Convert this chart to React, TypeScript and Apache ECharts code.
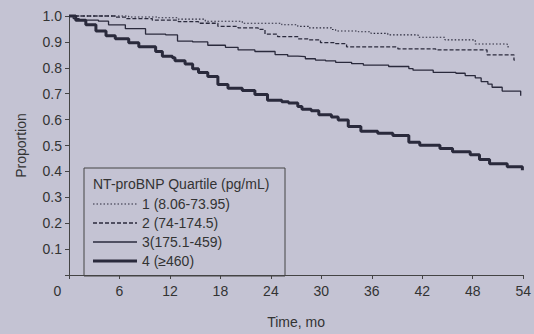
import React, { useEffect, useRef } from "react";
import * as echarts from "echarts";

const xTicks = [0, 6, 12, 18, 24, 30, 36, 42, 48, 54];
const yTicks = [0, 0.1, 0.2, 0.3, 0.4, 0.5, 0.6, 0.7, 0.8, 0.9, 1.0];

const legendTitle = "NT-proBNP Quartile (pg/mL)";
const seriesNames = ["1 (8.06-73.95)", "2 (74-174.5)", "3(175.1-459)", "4 (\u2265460)"];

// [time (mo), proportion] at each step
const q1: [number, number][] = [
  [0, 1.0], [7.1, 0.996], [10.6, 0.993], [13.0, 0.988], [16.2, 0.98], [20.6, 0.972],
  [25.3, 0.966], [27.2, 0.96], [28.5, 0.954], [31.2, 0.948], [31.7, 0.942], [34.4, 0.939],
  [35.9, 0.933], [37.9, 0.927], [41.5, 0.918], [44.7, 0.908], [48.3, 0.892], [52.1, 0.889],
  [52.2, 0.872],
];
const q2: [number, number][] = [
  [0, 1.0], [5.5, 0.996], [6.7, 0.99], [9.9, 0.984], [13.0, 0.978], [15.4, 0.972],
  [17.7, 0.96], [20.1, 0.954], [22.5, 0.948], [23.3, 0.93], [24.8, 0.92], [27.2, 0.912],
  [28.5, 0.908], [29.9, 0.897], [31.7, 0.893], [33.0, 0.881], [38.8, 0.879], [39.1, 0.873],
  [43.6, 0.869], [49.7, 0.85], [52.9, 0.83], [53.0, 0.83],
];
const q3: [number, number][] = [
  [0, 1.0], [0.5, 0.99], [1.2, 0.984], [3.5, 0.98], [4.7, 0.966], [6.7, 0.951],
  [9.1, 0.93], [11.5, 0.927], [12.9, 0.903], [14.7, 0.9], [16.5, 0.887], [18.6, 0.879],
  [20.1, 0.869], [22.1, 0.863], [24.5, 0.851], [26.0, 0.845], [27.2, 0.843], [28.1, 0.835],
  [29.3, 0.83], [30.5, 0.827], [31.7, 0.821], [33.6, 0.816], [35.0, 0.81], [38.0, 0.805],
  [40.4, 0.797], [40.9, 0.791], [43.3, 0.782], [46.0, 0.779], [47.1, 0.77], [48.3, 0.761],
  [49.0, 0.747], [49.8, 0.737], [50.3, 0.725], [51.5, 0.71], [53.6, 0.71], [53.7, 0.692],
];
const q4: [number, number][] = [
  [0, 1.0], [0.8, 0.984], [2.0, 0.966], [3.2, 0.942], [4.4, 0.924], [5.5, 0.912],
  [7.1, 0.897], [8.3, 0.881], [10.3, 0.863], [11.1, 0.845], [12.3, 0.839], [12.6, 0.827],
  [13.8, 0.815], [14.7, 0.796], [15.4, 0.782], [16.5, 0.766], [17.7, 0.736], [18.9, 0.721],
  [20.6, 0.712], [22.1, 0.697], [23.6, 0.675], [25.3, 0.669], [26.1, 0.664], [27.2, 0.651],
  [27.7, 0.64], [28.8, 0.634], [29.7, 0.619], [31.2, 0.61], [32.0, 0.598], [33.2, 0.573],
  [34.7, 0.555], [36.7, 0.547], [38.5, 0.539], [40.4, 0.513], [41.7, 0.501], [44.1, 0.488],
  [45.6, 0.476], [47.7, 0.464], [48.8, 0.446], [50.0, 0.43], [52.1, 0.418], [53.8, 0.418],
  [53.9, 0.404],
];

const BG = "#c4c3d3";
const INK = "#2a2a3c";
const TEXT = "#333";
const FONT = "'Liberation Sans', Arial, Helvetica, sans-serif";

export default function App() {
  const ref = useRef<HTMLDivElement>(null);
  useEffect(() => {
    if (!ref.current) return;
    const chart = echarts.init(ref.current, undefined, { renderer: "svg" });
    const styles = [
      { width: 1.1, type: [1.5, 2] as any, dash: [1.5, 2] },
      { width: 1.3, type: [4, 2] as any, dash: [4, 2] },
      { width: 1.3, type: "solid" as any, dash: null },
      { width: 3, type: "solid" as any, dash: null },
    ];
    const datasets = [q1, q2, q3, q4];

    const legendGraphics: any[] = [
      {
        type: "rect",
        shape: { x: 84, y: 168, width: 201, height: 108 },
        style: { fill: "transparent", stroke: "#444", lineWidth: 1 },
        silent: true,
      },
      {
        type: "text",
        x: 93,
        y: 184,
        style: {
          text: legendTitle,
          fontSize: 14,
          fill: TEXT,
          fontFamily: FONT,
          verticalAlign: "middle",
        },
        silent: true,
      },
    ];
    seriesNames.forEach((name, i) => {
      const y = 204 + i * 19;
      legendGraphics.push({
        type: "line",
        shape: { x1: 93, y1: y, x2: 137, y2: y },
        style: {
          stroke: INK,
          lineWidth: styles[i].width,
          lineDash: styles[i].dash || undefined,
        },
        silent: true,
      });
      legendGraphics.push({
        type: "text",
        x: 142,
        y: y,
        style: { text: name, fontSize: 14, fill: TEXT, fontFamily: FONT, verticalAlign: "middle" },
        silent: true,
      });
    });

    chart.setOption({
      animation: false,
      backgroundColor: BG,
      textStyle: { fontFamily: FONT },
      grid: { left: 69, right: 8, top: 16, bottom: 43, containLabel: false },
      xAxis: {
        type: "value",
        min: xTicks[0],
        max: xTicks[xTicks.length - 1],
        interval: 6,
        name: "Time, mo",
        nameLocation: "middle",
        nameGap: 40,
        nameTextStyle: { fontSize: 14, color: TEXT, fontFamily: FONT },
        axisLine: { show: true, lineStyle: { color: "#444", width: 1 } },
        axisTick: { show: true, length: 4, lineStyle: { color: "#444" } },
        splitLine: { show: false },
        axisLabel: {
          fontSize: 14,
          color: TEXT,
          margin: 9,
          fontFamily: FONT,
          formatter: (v: number) => (v === 0 ? "{z|0}" : String(v)),
          rich: { z: { fontSize: 14, color: TEXT, padding: [0, 23, 0, 0], fontFamily: FONT } },
        },
      },
      yAxis: {
        type: "value",
        min: yTicks[0],
        max: yTicks[yTicks.length - 1],
        interval: 0.1,
        name: "Proportion",
        nameLocation: "middle",
        nameGap: 41,
        nameTextStyle: { fontSize: 14, color: TEXT, fontFamily: FONT },
        axisLine: { show: true, lineStyle: { color: "#444", width: 1 } },
        axisTick: { show: true, length: 4, lineStyle: { color: "#444" } },
        splitLine: { show: false },
        axisLabel: {
          fontSize: 14,
          color: TEXT,
          margin: 7,
          fontFamily: FONT,
          formatter: (v: number) => (Math.abs(v) < 1e-9 ? "" : v.toFixed(1)),
        },
      },
      graphic: legendGraphics,
      series: datasets.map((d, i) => ({
        name: seriesNames[i],
        type: "line",
        step: "end",
        data: d,
        symbol: "none",
        clip: false,
        lineStyle: { color: INK, width: styles[i].width, type: styles[i].type },
        itemStyle: { color: INK },
        z: 2 + i,
      })),
    });
    return () => chart.dispose();
  }, []);
  return (
    <div
      ref={ref}
      style={{ position: "absolute", left: 0, top: 0, width: 534, height: 334, background: BG }}
    />
  );
}
